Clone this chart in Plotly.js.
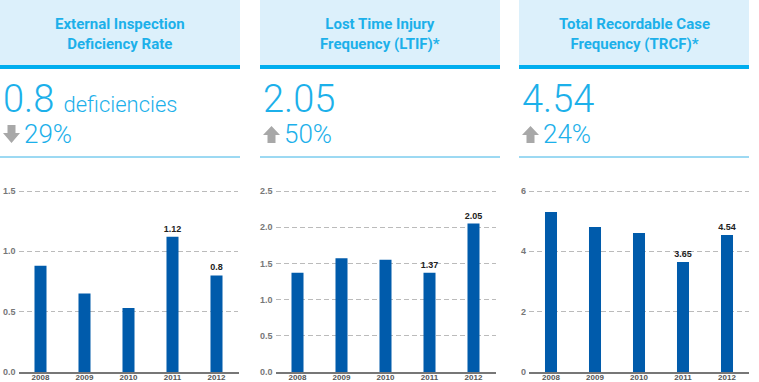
<!DOCTYPE html>
<html><head><meta charset="utf-8">
<script src="https://cdn.plot.ly/plotly-3.0.1.min.js"></script>
<style>html,body{margin:0;padding:0;background:#fff}#c{width:759px;height:382px}</style>
</head><body><div id="c"></div>
<script>
const years = ['2008','2009','2010','2011','2012'];
const eidr = [0.88, 0.65, 0.53, 1.12, 0.8];
const eidrLabels = ['', '', '', '1.12', '0.8'];
const ltif = [1.37, 1.57, 1.55, 1.37, 2.05];
const ltifLabels = ['', '', '', '1.37', '2.05'];
const trcf = [5.30, 4.81, 4.61, 3.65, 4.54];
const trcfLabels = ['', '', '', '3.65', '4.54'];
const titles = ['External Inspection<br>Deficiency Rate', 'Lost Time Injury<br>Frequency (LTIF)*', 'Total Recordable Case<br>Frequency (TRCF)*'];
const bigNums = ['0.8', '2.05', '4.54'];
const changes = ['29%', '50%', '24%'];
const dirs = ['down', 'up', 'up'];

const W = 759, H = 382;
const px = x => x / W, py = y => 1 - y / H;
const BAR = '#005bab', CYAN = '#1cb0ea', BAND = '#dcf0fb';
const panels = [[0, 240], [260, 500], [519, 749]];
const plotX = [[18.5, 238.5], [275.5, 495.5], [529, 749]];

const series = [[eidr, eidrLabels], [ltif, ltifLabels], [trcf, trcfLabels]];
const data = series.map((s, i) => ({
  type: 'bar', x: years, y: s[0], text: s[1], textposition: 'outside', cliponaxis: false,
  constraintext: 'none',
  textfont: {family: 'Liberation Sans, Arial', size: 9, color: '#222', weight: 'bold'},
  marker: {color: BAR}, xaxis: 'x' + (i ? i + 1 : ''), yaxis: 'y' + (i ? i + 1 : ''),
  hoverinfo: 'none', showlegend: false
}));

const layout = {
  width: W, height: H, margin: {l: 0, r: 0, t: 0, b: 0},
  paper_bgcolor: '#fff', plot_bgcolor: '#fff', bargap: 0.727,
  shapes: [], annotations: []
};
const ranges = [[0, 1.5497], [0, 2.5829], [0, 6.199]];
const dticks = [0.5, 0.5, 2];
const fmts = ['.1f', '.1f', 'd'];
for (let i = 0; i < 3; i++) {
  const s = i ? String(i + 1) : '';
  layout['xaxis' + s] = {
    domain: [px(plotX[i][0]), px(plotX[i][1])], anchor: 'y' + s, type: 'category',
    tickmode: 'linear', dtick: 1, tick0: 0, tickangle: 0,
    showline: true, linecolor: '#777', linewidth: 1.5, ticks: '', showgrid: false, ticklabelstandoff: -3,
    tickfont: {family: 'Liberation Sans, Arial', size: 8, color: '#555', weight: 'bold'}, fixedrange: true
  };
  layout['yaxis' + s] = {
    domain: [py(372), py(185)], anchor: 'x' + s, range: ranges[i], dtick: dticks[i], tick0: 0, tickformat: fmts[i],
    showgrid: true, gridcolor: '#bbb', griddash: '5px,3px', gridwidth: 1, zeroline: false,
    ticks: '', ticklabelstandoff: 2,
    tickfont: {family: 'Liberation Sans, Arial', size: 9, color: '#777', weight: 'bold'}, fixedrange: true
  };
  const [a, b] = panels[i];
  layout.shapes.push({type: 'rect', xref: 'paper', yref: 'paper', x0: px(a), x1: px(b), y0: py(65), y1: py(0), fillcolor: BAND, line: {width: 0}, layer: 'below'});
  layout.shapes.push({type: 'rect', xref: 'paper', yref: 'paper', x0: px(a), x1: px(b), y0: py(69), y1: py(65), fillcolor: '#00aeef', line: {width: 0}});
  layout.shapes.push({type: 'line', xref: 'paper', yref: 'paper', x0: px(a), x1: px(b), y0: py(157), y1: py(157), line: {color: '#3ab3e6', width: 1}});
  const cx = (a + b) / 2;
  layout.annotations.push({xref: 'paper', yref: 'paper', x: px(cx), y: py(34), text: titles[i], showarrow: false,
    font: {family: 'Roboto, Liberation Sans', size: 15, color: CYAN, weight: 'bold'}, align: 'center', xanchor: 'center', yanchor: 'middle'});
  layout.annotations.push({xref: 'paper', yref: 'paper', x: px(a + 1), y: py(99), text: bigNums[i] + (i === 0 ? ' <span style="font-size:22px">deficiencies</span>' : ''), showarrow: false,
    font: {family: 'Roboto, Liberation Sans', size: 38, color: CYAN, weight: 300}, xanchor: 'left', yanchor: 'middle'});
  layout.annotations.push({xref: 'paper', yref: 'paper', x: px(a + 22), y: py(134), text: changes[i], showarrow: false,
    font: {family: 'Roboto, Liberation Sans', size: 26, color: CYAN, weight: 300}, xanchor: 'left', yanchor: 'middle'});
  const x0 = a + 3, x1 = a + 20, xm = (x0 + x1) / 2, s0 = xm - 4, s1 = xm + 4;
  let p;
  if (dirs[i] === 'down') {
    p = `M ${px(s0)} ${py(125)} L ${px(s1)} ${py(125)} L ${px(s1)} ${py(133)} L ${px(x1)} ${py(133)} L ${px(xm)} ${py(143)} L ${px(x0)} ${py(133)} L ${px(s0)} ${py(133)} Z`;
  } else {
    p = `M ${px(xm)} ${py(126)} L ${px(x1)} ${py(135)} L ${px(s1)} ${py(135)} L ${px(s1)} ${py(143)} L ${px(s0)} ${py(143)} L ${px(s0)} ${py(135)} L ${px(x0)} ${py(135)} Z`;
  }
  layout.shapes.push({type: 'path', xref: 'paper', yref: 'paper', path: p, fillcolor: '#a8a8a8', line: {width: 0}});
}
Plotly.newPlot('c', data, layout, {displayModeBar: false, staticPlot: true});
</script></body></html>
